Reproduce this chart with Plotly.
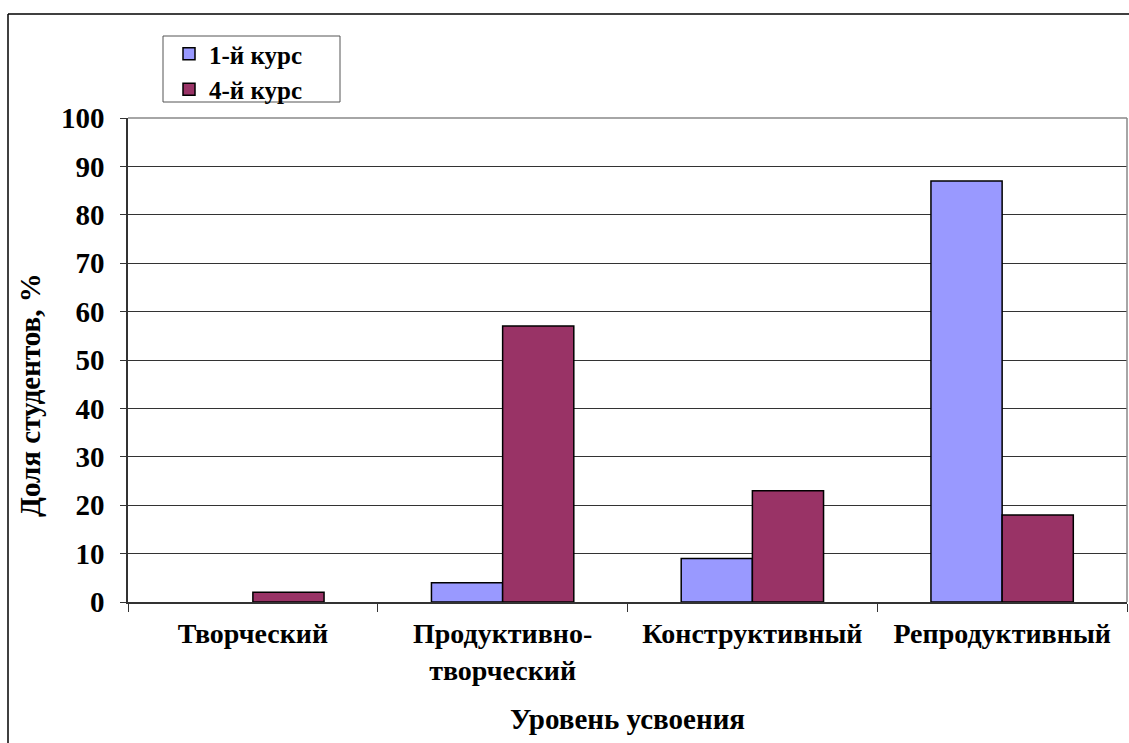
import plotly.graph_objects as go

categories = ["Творческий", "Продуктивно-<br>творческий", "Конструктивный", "Репродуктивный"]
course1 = [0, 4, 9, 87]
course4 = [2, 57, 23, 18]
series_names = ["1-й курс", "4-й курс"]
series_colors = ["#9999FF", "#993366"]
y_ticks = list(range(0, 101, 10))

W, H = 1129, 743
L, R, T, B = 128, 2, 118, 141
pw, ph = W - L - R, H - T - B

def px(x):
    return (x - L) / pw

def py(y):
    return (H - B - y) / ph

FF = "Liberation Serif"

def bold(size):
    return dict(family=FF, size=size, color="black", weight="bold")

def outline(vals):
    return [0 if v == 0 else 1.5 for v in vals]

fig = go.Figure()
for i, (vals, name, col) in enumerate(zip([course1, course4], series_names, series_colors)):
    fig.add_trace(go.Bar(x=categories, y=vals, name=name, offsetgroup=str(i),
                         showlegend=False,
                         marker=dict(color=col, line=dict(color="black", width=outline(vals)))))
# legend-only entries with outlined swatches
for i, (name, col) in enumerate(zip(series_names, series_colors)):
    fig.add_trace(go.Bar(x=[categories[0]], y=[None], name=name, offsetgroup=str(i),
                         showlegend=True,
                         marker=dict(color=col, line=dict(color="black", width=1.5))))

fig.update_layout(
    width=W, height=H,
    margin=dict(l=L, r=R, t=T, b=B),
    paper_bgcolor="white", plot_bgcolor="white",
    barmode="group", bargap=0.43, bargroupgap=0,
    font=bold(24),
    showlegend=True,
    legend=dict(x=px(169), y=py(31), xanchor="left", yanchor="top",
                bgcolor="rgba(0,0,0,0)", borderwidth=0,
                font=bold(25), itemwidth=30, tracegroupgap=0),
    xaxis=dict(
        type="category", tickson="boundaries", ticks="outside", ticklen=8,
        tickcolor="#333333", showline=True, linecolor="#333333", linewidth=1.5,
        tickfont=bold(28), showgrid=False, ticklabelstandoff=6,
        categoryorder="array", categoryarray=categories,
        title=dict(text="Уровень усвоения", standoff=24, font=bold(29)),
    ),
    yaxis=dict(
        range=[0, 100], tickvals=y_ticks, ticks="outside", ticklen=6,
        tickcolor="#333333", showline=True, linecolor="#333333", linewidth=1.5,
        showgrid=True, gridcolor="#333333", gridwidth=1,
        tickfont=bold(29), ticklabelstandoff=10,
        zeroline=False,
    ),
    annotations=[
        dict(text="Доля студентов, %", xref="paper", yref="paper",
             x=px(30), y=py(395), textangle=-90, showarrow=False,
             xanchor="center", yanchor="middle", font=bold(29)),
    ],
)

shapes = [
    dict(type="line", xref="paper", yref="paper", x0=0, x1=1, y0=1, y1=1,
         line=dict(color="#888888", width=1.5)),
    dict(type="line", xref="paper", yref="paper", x0=1, x1=1, y0=0, y1=1,
         line=dict(color="#888888", width=1.5)),
    dict(type="line", xref="paper", yref="paper", x0=px(8), x1=px(1135), y0=py(14), y1=py(14),
         line=dict(color="black", width=1.5)),
    dict(type="line", xref="paper", yref="paper", x0=px(8), x1=px(8), y0=py(14), y1=py(750),
         line=dict(color="black", width=1.5)),
    dict(type="rect", xref="paper", yref="paper", x0=px(163), x1=px(340), y0=py(102), y1=py(36),
         line=dict(color="#555555", width=1), layer="below"),
]
fig.update_layout(shapes=shapes)

fig.write_html("out.html")
